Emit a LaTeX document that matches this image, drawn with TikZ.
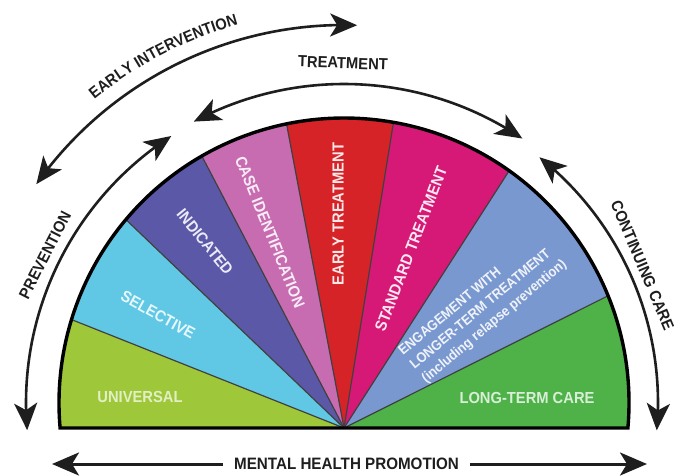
\documentclass[tikz,border=0pt]{standalone}
\usepackage{fontspec}
\newfontfamily\lab[FakeStretch=0.92]{Liberation Sans}
\usetikzlibrary{arrows.meta,bending,decorations.text}
\definecolor{cuniv}{RGB}{158,200,58}
\definecolor{csel}{RGB}{96,200,228}
\definecolor{cind}{RGB}{92,88,168}
\definecolor{ccase}{RGB}{200,108,178}
\definecolor{cearly}{RGB}{214,35,40}
\definecolor{cstd}{RGB}{214,25,118}
\definecolor{ceng}{RGB}{122,152,208}
\definecolor{clong}{RGB}{78,178,72}
\definecolor{ink}{RGB}{30,30,30}
\tikzset{BT/.tip={Stealth[length=27pt,width=23pt,inset=7pt]}}
\begin{document}
\begin{tikzpicture}[x=1pt,y=1pt,
  seglab/.style={font=\lab\bfseries\fontsize{16}{16}\selectfont, inner sep=0pt},
  outlab/.style={font=\lab\bfseries\fontsize{16}{16}\selectfont, text=ink, inner sep=0pt},
  bigarr/.style={line width=2.6pt, draw=ink, BT-BT},
  divider/.style={draw=black!75, line width=1.2pt}]
\useasboundingbox (-344,-47) rectangle (331,428);
\fill[white] (-344,-47) rectangle (331,428);
\coordinate (apex) at (0,0);
\coordinate (ctr) at (0,25);
% segments
\begin{scope}
  \clip (-300,0) rectangle (300,320);
  \clip (ctr) circle (285);
  \fill[cuniv]  (apex) -- (158.3:500) -- (185:500) -- cycle;
  \fill[csel]   (apex) -- (136.3:500) -- (158.3:500) -- cycle;
  \fill[cind]   (apex) -- (117.6:500) -- (136.3:500) -- cycle;
  \fill[ccase]  (apex) -- (100.7:500) -- (117.6:500) -- cycle;
  \fill[cearly] (apex) -- (80.8:500) -- (100.7:500) -- cycle;
  \fill[cstd]   (apex) -- (57.3:500) -- (80.8:500) -- cycle;
  \fill[ceng]   (apex) -- (26.6:500) -- (57.3:500) -- cycle;
  \fill[clong]  (apex) -- (-5:500) -- (26.6:500) -- cycle;
  \foreach \a in {158.3,136.3,117.6,100.7,80.8,57.3,26.6}
    \draw[divider] (apex) -- (\a:500);
\end{scope}
\draw[line width=3.4pt, draw=black, line join=miter]
  ([shift={(0,25)}]-5.03:285) arc[start angle=-5.03, end angle=185.03, radius=285] -- cycle;
% segment labels
\node[seglab, text=white!70!cuniv] (univ) at (-204,31) {UNIVERSAL};
\node[seglab, text=white!85!csel, rotate=-29] (sel) at (-186,113) {SELECTIVE};
\node[seglab, text=white!88!cind, rotate=-51] (ind) at (-139,186) {INDICATED};
\node[seglab, text=white!88!ccase, rotate=-68] (case) at (-74,196) {CASE IDENTIFICATION};
\node[seglab, text=white!90!cearly, rotate=90] (early) at (-6,214) {EARLY TREATMENT};
\node[seglab, text=white!90!cstd, rotate=69] (std) at (67,179) {STANDARD TREATMENT};
\node[seglab, text=white!88!ceng, rotate=40, align=left,
      font=\lab\bfseries\fontsize{14}{18}\selectfont] (eng) at (139,120)
      {ENGAGEMENT WITH\\LONGER-TERM TREATMENT\\(including relapse prevention)};
\node[seglab, text=white!78!clong] (long) at (183,30) {LONG-TERM CARE};
% outer arrows
\draw[bigarr] ([shift={(0,25)}]184.9:318) arc[start angle=184.9, end angle=122.9, radius=318];
\draw[bigarr] ([shift={(0,26)}]144.7:377) arc[start angle=144.7, end angle=88, radius=377];
\draw[bigarr] ([shift={(0,25)}]118.1:319) arc[start angle=118.1, end angle=56, radius=319];
\draw[bigarr] ([shift={(0,25)}]51.5:314) arc[start angle=51.5, end angle=-5, radius=314];
% outer labels
\node[outlab, rotate=63] (prev) at (-299,173) {PREVENTION};
\path[decorate, decoration={text along path, text align=center,
      text={|\lab\bfseries\fontsize{16}{16}\selectfont\color{ink}|EARLY INTERVENTION}}]
  ([shift={(0,26)}]142:392) arc[start angle=142, end angle=93.2, radius=392];
\node[outlab, rotate=-2] (treat) at (-1,365) {TREATMENT};
\node[outlab, rotate=-67] (cont) at (298.5,162.5) {CONTINUING CARE};
% mental health promotion
\node[outlab, inner xsep=11pt, font=\lab\bfseries\fontsize{16.5}{16.5}\selectfont] (mhp) at (2.5,-36) {MENTAL HEALTH PROMOTION};
\coordinate (mhpL) at (-292,-36);
\coordinate (mhpR) at (303,-36);
\draw[line width=3pt, draw=ink, -BT] (mhp.west) -- (mhpL);
\draw[line width=3pt, draw=ink, -BT] (mhp.east) -- (mhpR);
\end{tikzpicture}
\end{document}
